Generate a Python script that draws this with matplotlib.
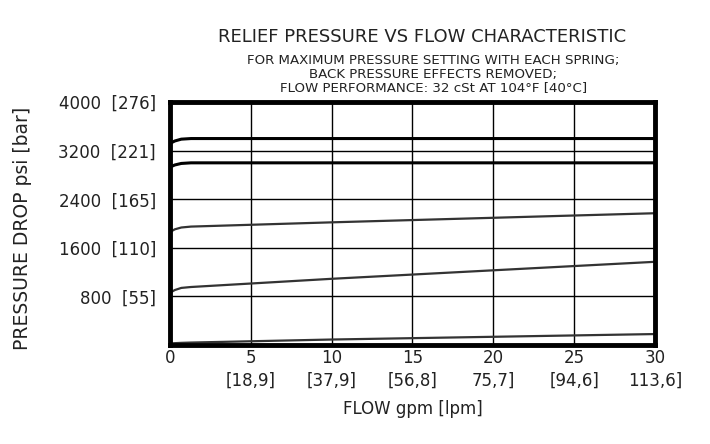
import matplotlib.pyplot as plt

plt.rcParams['font.family'] = ['DejaVu Sans']

# flow in gpm, pressure in psi
flow = [0, 0.3, 0.7, 1.3, 10, 20, 30]
spring_a = [3320, 3360, 3390, 3400, 3400, 3400, 3400]
spring_b = [2930, 2965, 2990, 3000, 3000, 3000, 3000]
spring_c = [1860, 1905, 1935, 1950, 2020, 2095, 2170]
spring_d = [860, 905, 940, 955, 1090, 1230, 1370]
spring_e = [25, 30, 35, 40, 90, 135, 180]

x_ticks = [0, 5, 10, 15, 20, 25, 30]
x_labels = ['0', '5\n[18,9]', '10\n[37,9]', '15\n[56,8]', '20\n75,7]', '25\n[94,6]', '30\n113,6]']
y_ticks = [800, 1600, 2400, 3200, 4000]
y_labels = ['800  [55]', '1600  [110]', '2400  [165]', '3200  [221]', '4000  [276]']

fig = plt.figure(figsize=(7.1, 4.44), dpi=100)
ax = fig.add_axes([0.2394, 0.223, 0.6831, 0.547])

ax.plot(flow, spring_a, color='black', linewidth=2.2)
ax.plot(flow, spring_b, color='black', linewidth=2.2)
for s in [spring_c, spring_d, spring_e]:
    ax.plot(flow, s, color='#333333', linewidth=1.6)

ax.set_xlim(0, 30)
ax.set_ylim(0, 4000)
ax.set_xticks(x_ticks)
ax.set_xticklabels(x_labels, fontsize=12, linespacing=1.35, color='#222222')
ax.set_yticks(y_ticks)
ax.set_yticklabels(y_labels, fontsize=12, color='#222222')
ax.tick_params(axis='x', length=0, pad=3)
ax.tick_params(axis='y', length=0, pad=10)
ax.grid(True, color='black', linewidth=1)
for sp in ax.spines.values():
    sp.set_linewidth(3.5)

ax.set_xlabel('FLOW gpm [lpm]', fontsize=12, labelpad=7, color='#222222')
ax.set_ylabel('PRESSURE DROP psi [bar]', fontsize=13.5, color='#222222')
ax.yaxis.set_label_coords(-0.285, 0.48)

fig.text(0.595, 0.905, 'RELIEF PRESSURE VS FLOW CHARACTERISTIC', ha='center',
         fontsize=13, color='#222222')
fig.text(0.61, 0.795,
         'FOR MAXIMUM PRESSURE SETTING WITH EACH SPRING;\n'
         'BACK PRESSURE EFFECTS REMOVED;\n'
         'FLOW PERFORMANCE: 32 cSt AT 104\u00b0F [40\u00b0C]',
         ha='center', fontsize=9.6, linespacing=1.05, color='#222222')

fig.savefig('out.png', dpi=100)
